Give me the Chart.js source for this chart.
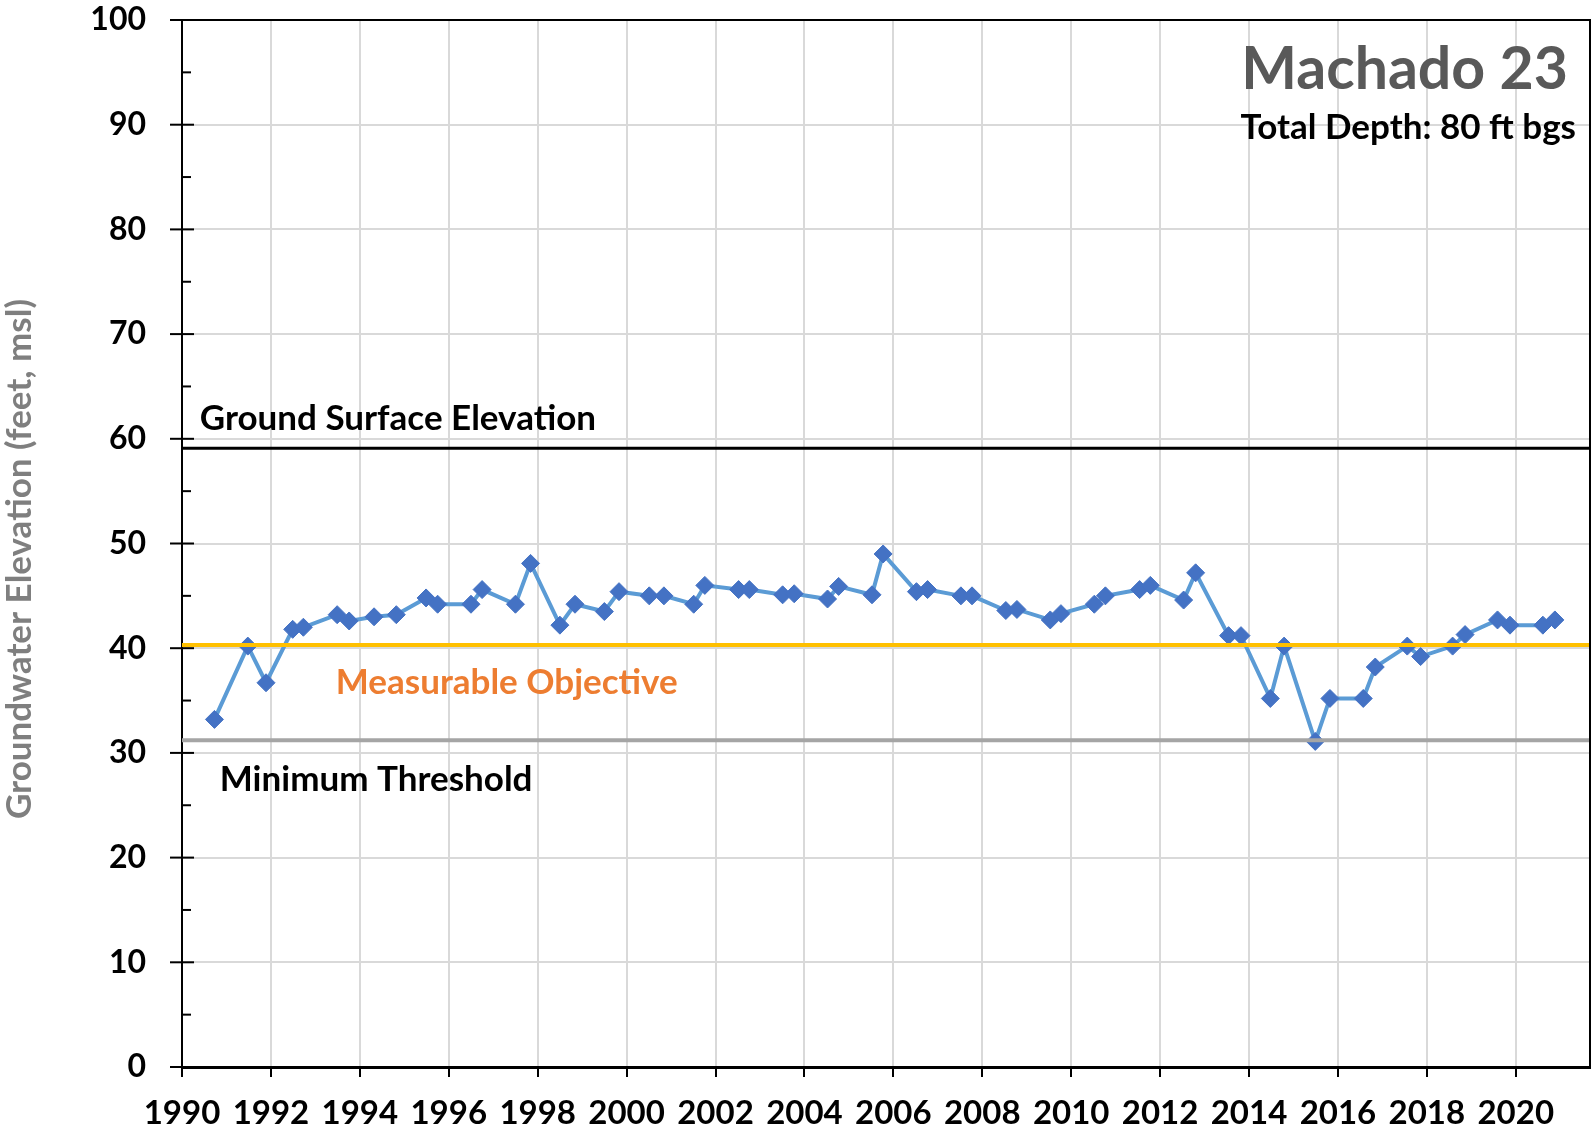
<!DOCTYPE html>
<html>
<head>
<meta charset="utf-8">
<script src="https://cdn.jsdelivr.net/npm/chart.js@4/dist/chart.umd.min.js"></script>
<style>
  html, body { margin: 0; padding: 0; background: #fff; }
  #wrap { width: 1591px; height: 1134px; position: relative; }
</style>
</head>
<body>
<div id="wrap"><canvas id="chart" width="1591" height="1134"></canvas></div>
<script>
// measurement dates (decimal years) and groundwater elevations (ft msl)
const years = [
  1990.73, 1991.48, 1991.89, 1992.49, 1992.73, 1993.49, 1993.76, 1994.32, 1994.82,
  1995.49, 1995.75, 1996.50, 1996.75, 1997.50, 1997.84, 1998.50, 1998.84, 1999.50,
  1999.83, 2000.51, 2000.84, 2001.51, 2001.76, 2002.52, 2002.76, 2003.51, 2003.77,
  2004.52, 2004.77, 2005.52, 2005.77, 2006.52, 2006.77, 2007.52, 2007.77, 2008.53,
  2008.78, 2009.53, 2009.77, 2010.52, 2010.77, 2011.54, 2011.78, 2012.53, 2012.80,
  2013.54, 2013.82, 2014.48, 2014.79, 2015.49, 2015.82, 2016.57, 2016.84, 2017.56,
  2017.86, 2018.58, 2018.86, 2019.59, 2019.87, 2020.61, 2020.88
];
const elevations = [
  33.2, 40.2, 36.7, 41.8, 42.0, 43.2, 42.6, 43.0, 43.2,
  44.8, 44.2, 44.2, 45.6, 44.2, 48.1, 42.2, 44.2, 43.5,
  45.4, 45.0, 45.0, 44.2, 46.0, 45.6, 45.6, 45.1, 45.2,
  44.7, 45.9, 45.1, 49.0, 45.4, 45.6, 45.0, 45.0, 43.6,
  43.7, 42.7, 43.3, 44.2, 45.0, 45.6, 46.0, 44.6, 47.2,
  41.2, 41.2, 35.2, 40.2, 31.1, 35.2, 35.2, 38.2, 40.2,
  39.2, 40.2, 41.3, 42.7, 42.2, 42.2, 42.7
];

const groundSurface = 59.1;
const measurableObjective = 40.3;
const minimumThreshold = 31.2;

const xMin = 1990;
const xMax = 2021.67;
const xTickStep = 2;
const yMin = 0;
const yMax = 100;
const yTickStep = 10;

const wellName = "Machado 23";
const depthText = "Total Depth: 80 ft bgs";
const yTitle = "Groundwater Elevation (feet, msl)";

const FONT = "Lato, 'Open Sans', sans-serif";

function flatLine(v) {
  return [{ x: xMin, y: v }, { x: xMax, y: v }];
}

const points = years.map((yr, i) => ({ x: yr, y: elevations[i] }));

// extra drawing: minor ticks, frame, and text labels
const decorations = {
  id: "decorations",
  afterDraw(c) {
    const ctx = c.ctx;
    const xs = c.scales.x;
    const ys = c.scales.y;
    const area = c.chartArea;
    ctx.save();

    // frame top / right
    ctx.strokeStyle = "#000";
    ctx.lineWidth = 2;
    ctx.beginPath();
    ctx.moveTo(area.left, area.top);
    ctx.lineTo(area.right, area.top);
    ctx.lineTo(area.right, area.bottom);
    ctx.stroke();

    // y ticks: major crossing, minor inside
    ctx.lineWidth = 2;
    for (let v = yMin; v <= yMax; v += 5) {
      const py = ys.getPixelForValue(v);
      ctx.beginPath();
      if (v % 10 === 0) {
        ctx.moveTo(area.left - 12, py);
        ctx.lineTo(area.left + 12, py);
      } else {
        ctx.moveTo(area.left, py);
        ctx.lineTo(area.left + 9, py);
      }
      ctx.stroke();
    }

    // labels
    ctx.textBaseline = "alphabetic";
    ctx.textAlign = "left";
    ctx.font = "bold 35px " + FONT;
    ctx.fillStyle = "#000";
    ctx.fillText("Ground Surface Elevation", xs.getPixelForValue(1990.4), ys.getPixelForValue(groundSurface) - 18);
    ctx.fillText("Minimum Threshold", xs.getPixelForValue(1990.85), ys.getPixelForValue(minimumThreshold) + 51);
    ctx.fillStyle = "#ED7D31";
    ctx.fillText("Measurable Objective", xs.getPixelForValue(1993.46), ys.getPixelForValue(measurableObjective) + 49);

    ctx.textAlign = "right";
    ctx.fillStyle = "#595959";
    ctx.font = "bold 59px " + FONT;
    ctx.fillText(wellName, 1568, 89);
    ctx.fillStyle = "#000";
    ctx.font = "bold 35px " + FONT;
    ctx.fillText(depthText, 1576, 139);

    // y axis title
    ctx.translate(20, 559);
    ctx.rotate(-Math.PI / 2);
    ctx.textAlign = "center";
    ctx.textBaseline = "middle";
    ctx.fillStyle = "#7F7F7F";
    ctx.font = "bold 35px " + FONT;
    ctx.fillText(yTitle, 0, 0);

    ctx.restore();
  }
};

const chart = new Chart(document.getElementById("chart"), {
  type: "scatter",
  data: {
    datasets: [
      {
        label: "Ground Surface Elevation",
        data: flatLine(groundSurface),
        showLine: true,
        borderColor: "#000000",
        borderWidth: 3,
        pointRadius: 0
      },
      {
        label: "Measurable Objective",
        data: flatLine(measurableObjective),
        showLine: true,
        borderColor: "#FFC000",
        borderWidth: 4,
        pointRadius: 0
      },
      {
        label: "Minimum Threshold",
        data: flatLine(minimumThreshold),
        showLine: true,
        borderColor: "#A5A5A5",
        borderWidth: 4,
        pointRadius: 0
      },
      {
        label: wellName,
        data: points,
        showLine: true,
        borderColor: "#5B9BD5",
        borderWidth: 4,
        pointStyle: "rectRot",
        pointRadius: 9,
        pointBackgroundColor: "#4472C4",
        pointBorderColor: "#4472C4",
        pointBorderWidth: 1
      }
    ]
  },
  options: {
    responsive: false,
    animation: false,
    devicePixelRatio: 1,
    layout: { autoPadding: false, padding: { top: 20, right: 1, left: 0, bottom: 0 } },
    plugins: {
      legend: { display: false },
      tooltip: { enabled: false }
    },
    scales: {
      x: {
        type: "linear",
        min: xMin,
        max: xMax,
        afterBuildTicks(scale) {
          const t = [];
          for (let v = xMin; v <= xMax; v += xTickStep) t.push({ value: v });
          scale.ticks = t;
        },
        afterFit(scale) {
          scale.height = 67;
          scale.paddingLeft = 0;
          scale.paddingRight = 0;
        },
        grid: {
          color: "#D9D9D9",
          lineWidth: 2,
          tickColor: "#000",
          tickLength: 10,
          tickWidth: 2
        },
        border: { color: "#000", width: 3 },
        ticks: {
          color: "#000",
          font: { family: FONT, size: 33, weight: "bold" },
          padding: 17,
          maxRotation: 0,
          autoSkip: false,
          callback: (v) => String(Math.round(v))
        }
      },
      y: {
        min: yMin,
        max: yMax,
        afterFit(scale) {
          scale.width = 182;
          scale.paddingTop = 0;
          scale.paddingBottom = 0;
        },
        grid: {
          color: "#D9D9D9",
          lineWidth: 2,
          drawTicks: false
        },
        border: { color: "#000", width: 2 },
        ticks: {
          stepSize: yTickStep,
          color: "#000",
          padding: 36,
          font: { family: FONT, size: 32, weight: "bold" }
        }
      }
    }
  },
  plugins: [decorations]
});
</script>
</body>
</html>
